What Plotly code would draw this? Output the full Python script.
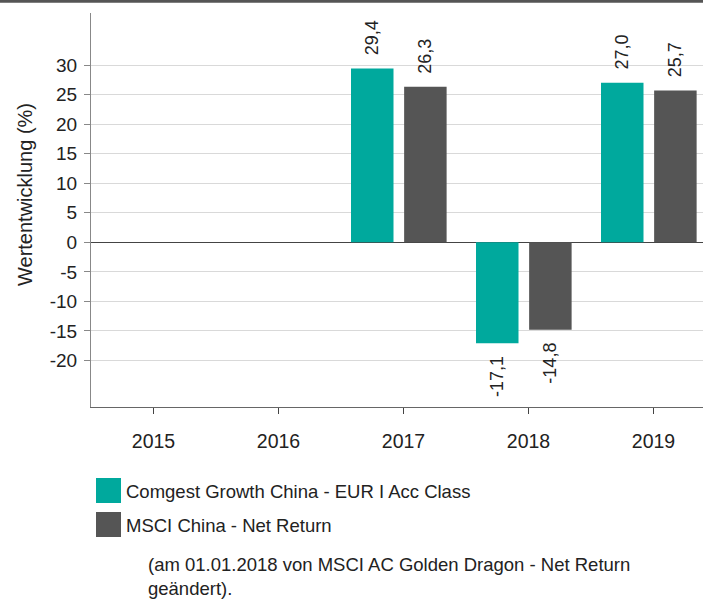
import plotly.graph_objects as go

years = ["2015", "2016", "2017", "2018", "2019"]
fund_name = "Comgest Growth China - EUR I Acc Class"
bench_name = "MSCI China - Net Return"
fund_values = [None, None, 29.4, -17.1, 27.0]
bench_values = [None, None, 26.3, -14.8, 25.7]
y_ticks = [-20, -15, -10, -5, 0, 5, 10, 15, 20, 25, 30]
y_tick_labels = ["-20", "-15", "-10", "-5", "0", "5", "10", "15", "20", "25", "30"]
y_title = "Wertentwicklung (%)"
note_lines = ["(am 01.01.2018 von MSCI AC Golden Dragon - Net Return", "geändert)."]

TEAL = "#00A99D"
GREY = "#555555"
FONT = "Liberation Sans, Arial, sans-serif"
W, H = 703, 599
ML, MT, MB = 91, 13, 192
PW, PH = W - ML, H - MT - MB
X_RANGE = [-0.5, -0.5 + PW / 125.0]
CAT_PX = PW / (X_RANGE[1] - X_RANGE[0])
BAR_W = 0.34
OFFSETS = {"fund": -0.42, "bench": 0.005}


def fmt(v):
    return f"{v:.1f}".replace(".", ",")


def px(x):
    return (x - ML) / PW


def py(y):
    return (H - MB - y) / PH


fig = go.Figure()
series = [("fund", fund_name, fund_values, TEAL), ("bench", bench_name, bench_values, GREY)]
for key, name, vals, col in series:
    fig.add_trace(go.Bar(
        x=years, y=vals, name=name,
        width=BAR_W, offset=OFFSETS[key],
        marker=dict(color=col, line=dict(width=0)),
        showlegend=False, hoverinfo="x+y",
    ))
    shift = (OFFSETS[key] + BAR_W / 2) * CAT_PX
    for i, v in enumerate(vals):
        if v is None:
            continue
        pos = v >= 0
        fig.add_annotation(
            x=i, y=v, xref="x", yref="y", text=fmt(v), showarrow=False,
            textangle=-90, xshift=shift, yshift=11 if pos else -11,
            xanchor="center", yanchor="bottom" if pos else "top",
            font=dict(size=18, color="#222"),
        )

fig.update_layout(
    width=W, height=H,
    margin=dict(l=ML, r=0, t=MT, b=MB),
    paper_bgcolor="white", plot_bgcolor="white",
    barmode="overlay",
    font=dict(family=FONT, size=18, color="#222"),
    xaxis=dict(
        type="category", range=X_RANGE,
        showline=True, linecolor="#666", linewidth=1,
        ticks="outside", ticklen=6, tickcolor="#444",
        ticklabelstandoff=11,
        tickfont=dict(size=19.5, color="#222"),
        showgrid=False,
    ),
    yaxis=dict(
        range=[-27.87, 38.8],
        tickvals=y_ticks, ticktext=y_tick_labels,
        showline=True, linecolor="#888", linewidth=1,
        ticks="outside", ticklen=6, tickcolor="#888",
        ticklabelstandoff=3,
        gridcolor="#d9d9d9", gridwidth=1,
        zeroline=True, zerolinecolor="#444", zerolinewidth=1,
        tickfont=dict(size=19, color="#222"),
    ),
)

# y-axis title
fig.add_annotation(xref="paper", yref="paper", x=px(25), y=py(195), text=y_title,
                   showarrow=False, textangle=-90, xanchor="center", yanchor="middle",
                   font=dict(size=20, color="#222"))

# top dark band
fig.add_shape(type="line", xref="paper", yref="paper",
              x0=px(0), x1=px(W), y0=py(1.2), y1=py(1.2),
              line=dict(color="#555", width=3))

# custom legend
legend_items = [(fund_name, TEAL, 478), (bench_name, GREY, 512)]
for name, col, top in legend_items:
    fig.add_shape(type="rect", xref="paper", yref="paper",
                  x0=px(96), x1=px(121), y0=py(top + 25), y1=py(top),
                  fillcolor=col, line=dict(width=0))
    fig.add_annotation(xref="paper", yref="paper", x=px(124), y=py(top + 13),
                       text=name, showarrow=False, xanchor="left", yanchor="middle",
                       font=dict(size=18.5, color="#222"))

for i, line in enumerate(note_lines):
    fig.add_annotation(xref="paper", yref="paper", x=px(146), y=py(564 + 24 * i),
                       text=line, showarrow=False, xanchor="left", yanchor="middle",
                       font=dict(size=18.5, color="#222"))

fig.write_html("out.html")
